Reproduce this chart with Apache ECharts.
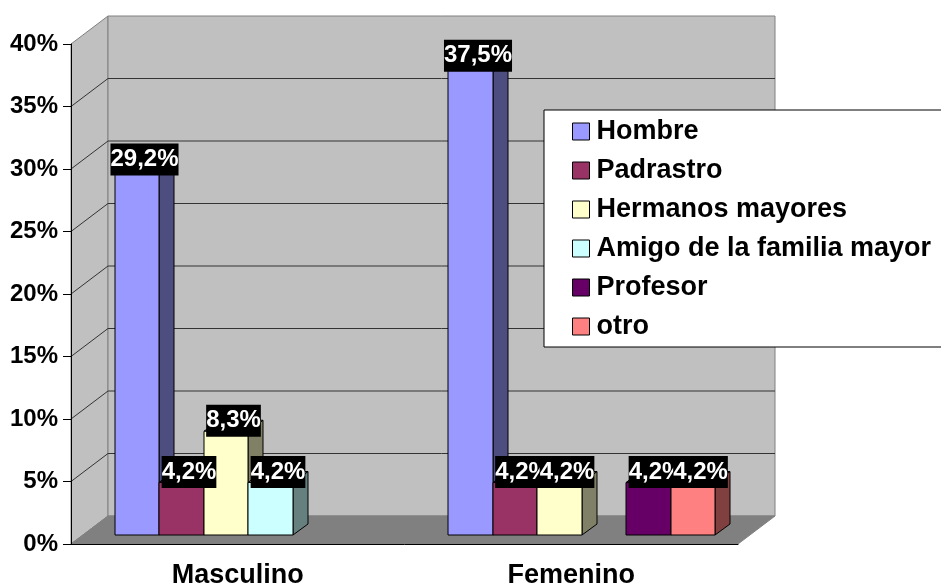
<!DOCTYPE html>
<html>
<head>
<meta charset="utf-8">
<title>Chart</title>
<script src="https://cdn.jsdelivr.net/npm/echarts@6/dist/echarts.min.js"></script>
<style>
	body{ margin: 0; background: #fff; }
	#myCharts{ width: 941px; height: 587px; }
</style>
</head>
<body>
<div id="myCharts"></div>
<script>
// datos
const categories = ['Masculino', 'Femenino'];
const hombre = [29.2, 37.5];
const padrastro = [4.2, 4.2];
const hermanos = [8.3, 4.2];
const amigo = [4.2, null];
const profesor = [null, 4.2];
const otro = [null, 4.2];
const yTicks = [5, 10, 15, 20, 25, 30, 35];

const seriesNames = ['Hombre', 'Padrastro', 'Hermanos mayores', 'Amigo de la familia mayor', 'Profesor', 'otro'];
const seriesValues = [hombre, padrastro, hermanos, amigo, profesor, otro];
const frontColors = ['#9999ff', '#993366', '#ffffcc', '#ccffff', '#660066', '#ff8080'];
const sideColors = ['#4d4d80', '#4d1a33', '#808066', '#668080', '#330033', '#804040'];

const font = 'Liberation Sans, Arial, sans-serif';
const wallDepth = [37, -28];   // profundidad de las paredes
const barInset = [10.5, -9];   // la barra no esta en el plano frontal
const barDepth = [15, -11];    // lado de la barra

function poly(points, fill, stroke, z2) {
	return { type: 'polygon', z2: z2 || 0, shape: { points: points }, style: { fill: fill, stroke: stroke, lineWidth: 1 } };
}

// paredes y suelo
function renderWalls(params) {
	const c = params.coordSys;
	const l = c.x, r = c.x + c.width, t = c.y, b = c.y + c.height;
	const dx = wallDepth[0], dy = wallDepth[1];
	return {
		type: 'group',
		children: [
			poly([[l, t], [l + dx, t + dy], [l + dx, b + dy], [l, b]], '#c0c0c0', '#808080'),
			poly([[l + dx, t + dy], [r + dx, t + dy], [r + dx, b + dy], [l + dx, b + dy]], '#c0c0c0', '#808080'),
			poly([[l, b], [r, b], [r + dx, b + dy], [l + dx, b + dy]], '#808080', '#808080', 1)
		]
	};
}

// lineas de division que suben por la pared izquierda y cruzan la del fondo
function renderGridLine(params, api) {
	const c = params.coordSys;
	const y = api.coord([0, api.value(1)])[1];
	return {
		type: 'polyline',
		shape: { points: [[c.x, y], [c.x + wallDepth[0], y + wallDepth[1]], [c.x + c.width + wallDepth[0], y + wallDepth[1]]] },
		style: { fill: null, stroke: '#333', lineWidth: 1 }
	};
}

function makeBarRender(slot) {
	return function (params, api) {
		const value = api.value(1);
		if (isNaN(value)) return null;
		const w = api.size([1, 0])[0] * 0.8 / 6;
		const base = api.coord([api.value(0), 0]);
		const top = api.coord([api.value(0), value]);
		const x0 = Math.round(base[0] - 3 * w + slot * w + barInset[0]);
		const x1 = Math.round(base[0] - 3 * w + (slot + 1) * w + barInset[0]);
		const y0 = base[1] + barInset[1];
		const y1 = top[1] + barInset[1];
		const dx = barDepth[0], dy = barDepth[1];
		return {
			type: 'group',
			children: [
				poly([[x1, y1], [x1 + dx, y1 + dy], [x1 + dx, y0 + dy], [x1, y0]], sideColors[slot], '#000'),
				poly([[x0, y1], [x0 + dx, y1 + dy], [x1 + dx, y1 + dy], [x1, y1]], sideColors[slot], '#000'),
				poly([[x0, y1], [x1, y1], [x1, y0], [x0, y0]], frontColors[slot], '#000'),
				{
					type: 'text',
					z2: 100,
					x: (x0 + x1 + dx) / 2,
					y: y1 + dy / 2 - 5,
					style: {
						text: String(value).replace('.', ',') + '%',
						fill: '#fff',
						font: 'bold 24px ' + font,
						align: 'center',
						verticalAlign: 'middle',
						backgroundColor: '#000',
						padding: [4, 0, 4, 0]
					}
				}
			]
		};
	};
}

const barSeries = seriesNames.map(function (name, i) {
	return {
		name: name,
		type: 'custom',
		renderItem: makeBarRender(i),
		itemStyle: { color: frontColors[i] },
		encode: { x: 0, y: 1 },
		data: categories.map(function (cat, k) { return [k, seriesValues[i][k]]; })
	};
});

const myCharts = echarts.init(document.getElementById('myCharts'), null, { renderer: 'canvas' });
myCharts.setOption({
	animation: false,
	backgroundColor: '#fff',
	textStyle: { fontFamily: font },
	grid: { left: 71, top: 44, width: 667, height: 500, outerBoundsMode: 'none' },
	legend: {
		orient: 'vertical',
		left: 544,
		top: 110,
		padding: [8, 12, 7, 28],
		itemGap: 12,
		itemWidth: 17,
		itemHeight: 17,
		icon: 'rect',
		selectedMode: false,
		backgroundColor: '#fff',
		borderColor: '#000',
		borderWidth: 1,
		itemStyle: { borderColor: '#000', borderWidth: 1 },
		textStyle: { color: '#000', fontWeight: 'bold', fontSize: 27, fontFamily: font, padding: [3, 0, 0, 2] },
		data: seriesNames
	},
	xAxis: {
		type: 'category',
		data: categories,
		z: 5,
		axisLine: { lineStyle: { color: '#000' } },
		axisTick: { length: 8, lineStyle: { color: '#000' } },
		axisLabel: { color: '#000', fontWeight: 'bold', fontSize: 27, margin: 18 }
	},
	yAxis: {
		type: 'value',
		min: 0,
		max: 40,
		interval: 5,
		z: 5,
		splitLine: { show: false },
		axisLine: { show: true, lineStyle: { color: '#000' } },
		axisTick: { show: true, length: 8, lineStyle: { color: '#000' } },
		axisLabel: { color: '#000', fontWeight: 'bold', fontSize: 24, margin: 13, padding: [3, 0, 0, 0], formatter: '{value}%' }
	},
	series: [
		{ type: 'custom', silent: true, z: 1, renderItem: renderWalls, data: [0] },
		{ type: 'custom', silent: true, z: 1, renderItem: renderGridLine, encode: { x: 0, y: 1 }, data: yTicks.map(function (t) { return [0, t]; }) }
	].concat(barSeries)
});
</script>
</body>
</html>
